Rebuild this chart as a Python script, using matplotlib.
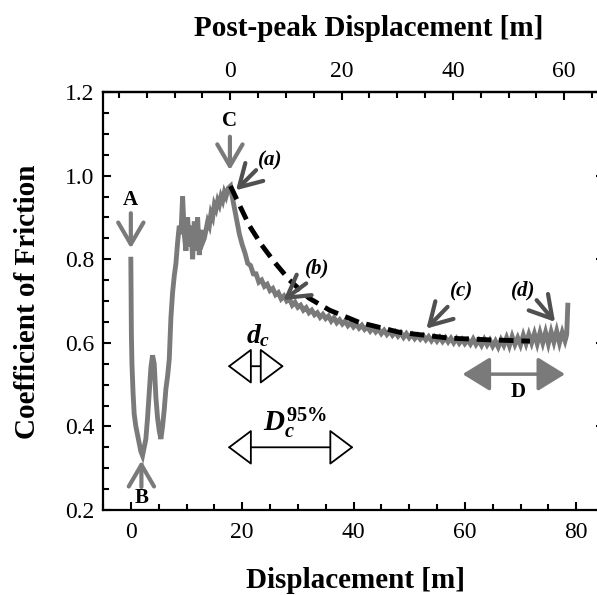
import matplotlib.pyplot as plt
from matplotlib.ticker import MultipleLocator, FixedLocator

plt.rcParams['font.family'] = ['Liberation Serif', 'DejaVu Serif']
plt.rcParams['mathtext.fontset'] = 'custom'
plt.rcParams['mathtext.it'] = 'Liberation Serif:bold:italic'
plt.rcParams['mathtext.rm'] = 'Liberation Serif:bold'

disp = [0.0, 0.05, 0.1, 0.2, 0.4, 0.6, 0.9, 1.2, 1.5, 1.8, 2.1, 2.4, 2.7, 3.0, 3.3, 3.6, 3.9,
        4.2, 4.5, 4.8, 5.1, 5.4, 5.7, 6.0, 6.3, 6.6, 6.9, 7.2, 7.5, 7.8, 8.1, 8.4, 8.7, 9.0,
        9.3, 9.6, 9.9, 10.2, 10.5, 10.8, 11.1, 11.4, 11.7, 12.0, 12.3, 12.6, 12.9, 13.2, 13.5,
        13.8, 14.1, 14.4, 14.7, 15.0, 15.3, 15.6, 15.9, 16.2, 16.5, 16.8, 17.1, 17.5, 17.9,
        18.0, 18.5, 19.0, 19.5, 20.0, 20.5, 21.0, 21.5, 22.0, 22.5, 23.0, 23.5, 24.0, 24.5,
        25.0, 25.5, 26.0, 26.5, 27.0, 27.5, 28.0, 28.5, 29.0, 29.5, 30.0, 30.5, 31.0, 31.5,
        32.0, 32.5, 33.0, 33.5, 34.0, 34.5, 35.0, 35.5, 36.0, 36.5, 37.0, 37.5, 38.0, 38.5,
        39.0, 39.5, 40.0, 40.5, 41.0, 41.5, 42.0, 42.5, 43.0, 43.5, 44.0, 44.5, 45.0, 45.5,
        46.0, 46.5, 47.0, 47.5, 48.0, 48.5, 49.0, 49.5, 50.0, 50.5, 51.0, 51.5, 52.0, 52.5,
        53.0, 53.5, 54.0, 54.5, 55.0, 55.5, 56.0, 56.5, 57.0, 57.5, 58.0, 58.5, 59.0, 59.5,
        60.0, 60.5, 61.0, 61.5, 62.0, 62.5, 63.0, 63.5, 64.0, 64.5, 65.0, 65.5, 66.0, 66.5,
        67.0, 67.5, 68.0, 68.5, 69.0, 69.5, 70.0, 70.5, 71.0, 71.5, 72.0, 72.5, 73.0, 73.5,
        74.0, 74.5, 75.0, 75.5, 76.0, 76.5, 77.0, 77.5, 78.0, 78.3, 78.5]
mu = [0.80, 0.70, 0.62, 0.55, 0.48, 0.43, 0.40, 0.38, 0.36, 0.34, 0.33, 0.35, 0.37, 0.42, 0.48,
      0.54, 0.57, 0.55, 0.47, 0.42, 0.39, 0.37, 0.40, 0.44, 0.49, 0.52, 0.56, 0.66, 0.72, 0.76,
      0.79, 0.84, 0.88, 0.86, 0.95, 0.86, 0.82, 0.90, 0.83, 0.88, 0.80, 0.89, 0.82, 0.90, 0.81,
      0.87, 0.84, 0.85, 0.87, 0.89, 0.88, 0.91, 0.90, 0.93, 0.92, 0.94, 0.93, 0.95, 0.94, 0.96,
      0.95, 0.97, 0.975,
      0.965, 0.93, 0.895, 0.86, 0.835, 0.815, 0.79, 0.785, 0.765, 0.765, 0.745, 0.75, 0.735,
      0.74, 0.725, 0.73, 0.715, 0.72, 0.705, 0.712, 0.70, 0.705, 0.69, 0.697, 0.685, 0.69,
      0.678, 0.684, 0.672, 0.678, 0.667, 0.672, 0.661, 0.668, 0.658, 0.664, 0.652, 0.66,
      0.648, 0.655, 0.645, 0.652, 0.641, 0.648, 0.638, 0.645, 0.635, 0.642, 0.632, 0.638,
      0.628, 0.636, 0.626, 0.633, 0.622, 0.63, 0.62, 0.628, 0.618, 0.626, 0.616, 0.624,
      0.613, 0.622, 0.612, 0.62, 0.61, 0.618, 0.609, 0.617, 0.607, 0.615, 0.605, 0.614,
      0.604, 0.613, 0.603, 0.612, 0.602, 0.611, 0.60, 0.61, 0.599, 0.608, 0.598, 0.607,
      0.597, 0.609, 0.596, 0.606, 0.594, 0.608, 0.595, 0.606, 0.592, 0.604, 0.59, 0.607,
      0.594, 0.612, 0.593, 0.615, 0.596, 0.612, 0.595, 0.618, 0.598, 0.62, 0.60, 0.622,
      0.598, 0.624, 0.60, 0.625, 0.598, 0.626, 0.602, 0.628, 0.60, 0.625, 0.605, 0.62, 0.69]

# fitted decay (dashed)
fit_x = [17.9, 19.5, 21.3, 23.5, 25.8, 28.5, 32.0, 35.7, 41.0, 48.3, 57.3, 64.5, 71.7]
fit_y = [0.975, 0.93, 0.88, 0.834, 0.793, 0.75, 0.707, 0.678, 0.649, 0.625, 0.611, 0.607, 0.604]

peak = 17.85
gray = '#7a7a7a'
dark = '#505050'

fig = plt.figure(figsize=(5.97, 5.95), dpi=100)
ax = fig.add_axes([103 / 597, 85 / 595, 501 / 597, 418 / 595])

ax.plot(disp, mu, color=gray, lw=3.5, solid_joinstyle='miter')
ax.plot(fit_x, fit_y, color='black', lw=3.5, dashes=(3, 1.6))

ax.set_xlim(-5, 85)
ax.set_ylim(0.2, 1.2)
ax.xaxis.set_major_locator(FixedLocator([0, 20, 40, 60, 80]))
ax.xaxis.set_minor_locator(MultipleLocator(5))
ax.yaxis.set_major_locator(MultipleLocator(0.2))
ax.yaxis.set_minor_locator(MultipleLocator(0.05))
ax.yaxis.set_major_formatter(plt.FuncFormatter(lambda v, p: '%.1f' % v))
ax.tick_params(which='both', direction='in', top=False, right=True, width=1.5, labelsize=17)
ax.tick_params(which='major', length=6)
ax.tick_params(which='minor', length=4)
ax.tick_params(axis='x', pad=9)
ax.tick_params(axis='y', pad=6)
for s in ax.spines.values():
    s.set_linewidth(1.6)

sec = ax.secondary_xaxis('top', functions=(lambda x: x - peak, lambda x: x + peak))
sec.xaxis.set_major_locator(FixedLocator([0, 20, 40, 60]))
sec.xaxis.set_minor_locator(MultipleLocator(5))
sec.tick_params(which='both', direction='in', width=1.5, labelsize=17, pad=7)
sec.tick_params(which='major', length=6)
sec.tick_params(which='minor', length=4)
sec.spines['top'].set_linewidth(1.6)

fig.text(356 / 597, 1 - 580 / 595, 'Displacement [m]', ha='center', va='center',
         fontsize=21, fontweight='bold')
fig.text(369 / 597, 1 - 28 / 595, 'Post-peak Displacement [m]', ha='center', va='center',
         fontsize=21, fontweight='bold')
fig.text(28 / 597, 1 - 302 / 595, 'Coefficient of Friction', ha='center', va='center',
         rotation=90, fontsize=21, fontweight='bold')

# point labels with arrows
def mark(xy, xytext, color):
    ax.annotate('', xy=xy, xytext=xytext,
                arrowprops=dict(arrowstyle='->,head_length=0.6,head_width=0.35', lw=3,
                                color=color, mutation_scale=26, shrinkA=0, shrinkB=0))

mark((0, 0.826), (0, 0.91), gray)
ax.text(0, 0.941, 'A', ha='center', va='center', fontsize=15, fontweight='bold')
mark((1.9, 0.318), (1.9, 0.255), gray)
ax.text(1.9, 0.228, 'B', ha='center', va='center', fontsize=15, fontweight='bold')
mark((17.8, 1.013), (17.8, 1.093), gray)
ax.text(17.8, 1.13, 'C', ha='center', va='center', fontsize=15, fontweight='bold')

mark((18.9, 0.965), (22.5, 1.013), dark)
ax.text(25.0, 1.037, '(a)', ha='center', va='center', fontsize=15, fontweight='bold',
        style='italic')
mark((27.4, 0.702), (31.5, 0.742), dark)
ax.text(33.5, 0.778, '(b)', ha='center', va='center', fontsize=15, fontweight='bold',
        style='italic')
mark((53.1, 0.634), (56.9, 0.686), dark)
ax.text(59.4, 0.722, '(c)', ha='center', va='center', fontsize=15, fontweight='bold',
        style='italic')
mark((76.2, 0.65), (72.9, 0.702), dark)
ax.text(70.4, 0.726, '(d)', ha='center', va='center', fontsize=15, fontweight='bold',
        style='italic')

# D range
ax.annotate('', xy=(59.6, 0.525), xytext=(78.0, 0.525),
            arrowprops=dict(arrowstyle='<|-|>,head_length=1.3,head_width=0.8', lw=2.5,
                            color=gray, mutation_scale=13, shrinkA=0, shrinkB=0))
ax.text(69.5, 0.482, 'D', ha='center', va='center', fontsize=15, fontweight='bold')

# d_c and D_c^95% ranges
ax.annotate('', xy=(17.4, 0.544), xytext=(27.5, 0.544),
            arrowprops=dict(arrowstyle='<|-|>,head_length=1.2,head_width=0.9', lw=1.3,
                            fc='white', ec='black', mutation_scale=13, shrinkA=0, shrinkB=0))
ax.text(22.8, 0.617, r'$d_c$', ha='center', va='center', fontsize=20)
ax.annotate('', xy=(17.4, 0.35), xytext=(40.0, 0.35),
            arrowprops=dict(arrowstyle='<|-|>,head_length=1.2,head_width=0.9', lw=1.3,
                            fc='white', ec='black', mutation_scale=13, shrinkA=0, shrinkB=0))
ax.text(29.5, 0.408, r'$D_c^{\mathit{95\%}}$', ha='center', va='center', fontsize=21)

fig.savefig('out.png', dpi=100)
